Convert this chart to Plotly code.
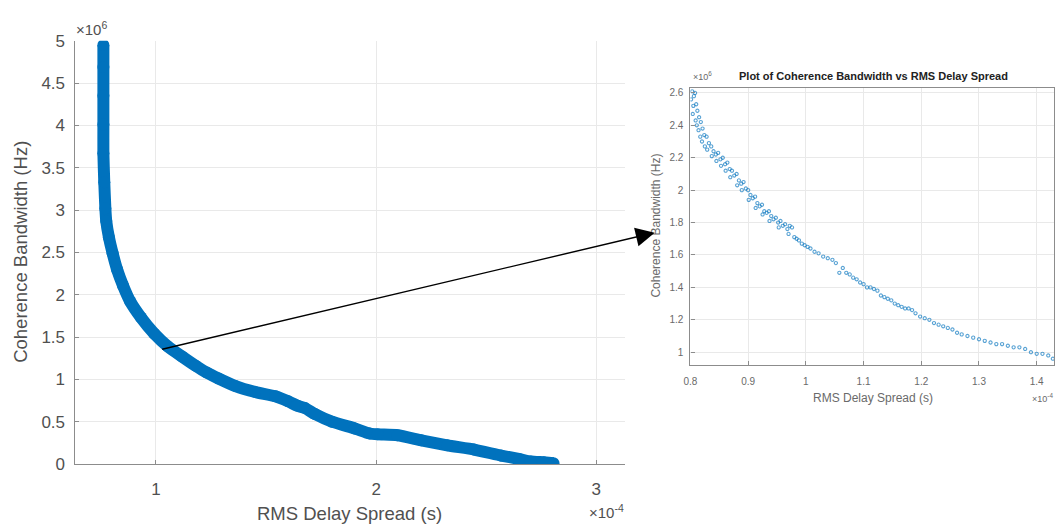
import plotly.graph_objects as go

# ---------------- data (x in 1e-4 s, y in 1e6 Hz) ----------------
main_delay = [0.761, 0.761, 0.761, 0.761, 0.761, 0.765, 0.770, 0.774, 0.786, 0.803,
              0.823, 0.850, 0.883, 0.932, 0.992, 1.053, 1.118, 1.180, 1.230, 1.284,
              1.361, 1.451, 1.542, 1.600, 1.641, 1.677, 1.722, 1.799, 1.903, 1.971,
              2.007, 2.097, 2.205, 2.323, 2.445, 2.567, 2.648, 2.702, 2.761, 2.806]
main_bw = [4.95, 4.69, 4.35, 4.01, 3.67, 3.33, 3.02, 2.87, 2.68, 2.49,
           2.30, 2.11, 1.92, 1.73, 1.54, 1.39, 1.27, 1.16, 1.08, 1.01,
           0.92, 0.85, 0.80, 0.74, 0.69, 0.66, 0.59, 0.50, 0.42, 0.36,
           0.35, 0.34, 0.28, 0.22, 0.17, 0.10, 0.06, 0.03, 0.02, 0.01]

zoom_delay = [0.803, 0.806, 0.801, 0.808, 0.805, 0.810, 0.804, 0.812, 0.809, 0.815,
              0.811, 0.818, 0.814, 0.821, 0.817, 0.824, 0.820, 0.828, 0.825, 0.832,
              0.829, 0.836, 0.840, 0.837, 0.844, 0.848, 0.845, 0.852, 0.856, 0.853,
              0.860, 0.864, 0.861, 0.868, 0.872, 0.869, 0.876, 0.880, 0.884, 0.881,
              0.888, 0.892, 0.889, 0.896, 0.900, 0.904, 0.901, 0.908, 0.912, 0.916,
              0.913, 0.920, 0.924, 0.928, 0.925, 0.932, 0.936, 0.940, 0.937, 0.944,
              0.948, 0.952, 0.956, 0.953, 0.960, 0.964, 0.968, 0.972, 0.976, 0.970,
              0.980, 0.984, 0.988, 0.993, 0.998, 1.003, 1.008, 1.015, 1.022, 1.030,
              1.038, 1.046, 1.052, 1.058, 1.064, 1.070, 1.076, 1.082, 1.088, 1.094,
              1.100, 1.106, 1.112, 1.118, 1.124, 1.130, 1.136, 1.142, 1.148, 1.154,
              1.160, 1.166, 1.172, 1.178, 1.184, 1.190, 1.198, 1.206, 1.214, 1.222,
              1.230, 1.238, 1.246, 1.254, 1.262, 1.270, 1.280, 1.290, 1.300, 1.310,
              1.320, 1.330, 1.340, 1.350, 1.360, 1.370, 1.380, 1.390, 1.400, 1.410,
              1.420, 1.428]
zoom_bw = [2.61, 2.58, 2.56, 2.60, 2.52, 2.53, 2.47, 2.49, 2.43, 2.45,
           2.40, 2.42, 2.37, 2.38, 2.33, 2.34, 2.30, 2.33, 2.27, 2.29,
           2.25, 2.27, 2.24, 2.21, 2.22, 2.23, 2.18, 2.19, 2.20, 2.15,
           2.16, 2.17, 2.12, 2.13, 2.12, 2.08, 2.09, 2.10, 2.06, 2.03,
           2.04, 2.05, 2.00, 2.01, 2.00, 1.97, 1.94, 1.95, 1.96, 1.92,
           1.89, 1.90, 1.91, 1.87, 1.85, 1.86, 1.87, 1.84, 1.81, 1.82,
           1.83, 1.80, 1.81, 1.77, 1.78, 1.79, 1.76, 1.78, 1.77, 1.73,
           1.71, 1.70, 1.69, 1.67, 1.66, 1.65, 1.64, 1.62, 1.61, 1.59,
           1.58, 1.57, 1.55, 1.49, 1.52, 1.49, 1.48, 1.46, 1.45, 1.43,
           1.42, 1.40, 1.40, 1.39, 1.38, 1.35, 1.34, 1.33, 1.32, 1.30,
           1.29, 1.28, 1.27, 1.27, 1.26, 1.24, 1.22, 1.21, 1.20, 1.18,
           1.17, 1.16, 1.15, 1.14, 1.12, 1.11, 1.10, 1.09, 1.08, 1.07,
           1.06, 1.05, 1.05, 1.04, 1.03, 1.03, 1.02, 1.00, 0.99, 0.99,
           0.98, 0.96]

main_xticks = [1, 2, 3]
main_yticks = [0, 0.5, 1, 1.5, 2, 2.5, 3, 3.5, 4, 4.5, 5]
zoom_xticks = [0.8, 0.9, 1.0, 1.1, 1.2, 1.3, 1.4]
zoom_yticks = [1.0, 1.2, 1.4, 1.6, 1.8, 2.0, 2.2, 2.4, 2.6]

def lab(v):
    s = ("%.1f" % v)
    return s[:-2] if s.endswith(".0") else s

FONT = "Liberation Sans, Arial, Helvetica, sans-serif"
BLUE = "#0072BD"
TICKC = "#505050"
SMALLC = "#6a6a6a"
W, H = 1057, 527

def px(x):
    return x / W

def py(y):
    return 1 - y / H

fig = go.Figure()
fig.add_trace(go.Scatter(
    x=main_delay, y=main_bw, mode="lines+markers",
    line=dict(color=BLUE, width=12, shape="spline", smoothing=0.5),
    marker=dict(color=BLUE, size=12),
    xaxis="x", yaxis="y", showlegend=False, hoverinfo="skip"))
fig.add_trace(go.Scatter(
    x=zoom_delay, y=zoom_bw, mode="markers",
    marker=dict(color="rgba(0,114,189,0.65)", size=3.2, symbol="circle-open",
                line=dict(width=1.1, color="rgba(0,114,189,0.65)")),
    xaxis="x2", yaxis="y2", showlegend=False, hoverinfo="skip"))

ax_common = dict(showgrid=True, gridcolor="#e9e9e9", gridwidth=1,
                 zeroline=False, showline=True, linecolor="#8c8c8c", linewidth=1.2,
                 ticks="inside", ticklen=4, tickcolor="#8c8c8c")

fig.update_layout(
    width=W, height=H, margin=dict(l=0, r=0, t=0, b=0),
    paper_bgcolor="white", plot_bgcolor="white",
    font=dict(family=FONT, color=TICKC),
    xaxis=dict(domain=[px(68), px(622)], range=[0.63, 3.13], anchor="y",
               tickvals=main_xticks, ticktext=[lab(v) for v in main_xticks],
               tickfont=dict(size=17, color=TICKC), ticklabelstandoff=10, **ax_common),
    yaxis=dict(domain=[py(472), py(33)], range=[0, 5], anchor="x",
               tickvals=main_yticks, ticktext=[lab(v) for v in main_yticks],
               tickfont=dict(size=17, color=TICKC), ticklabelstandoff=5, **ax_common),
    xaxis2=dict(domain=[px(688), px(1054)], range=[0.8, 1.43], anchor="y2",
                tickvals=zoom_xticks, ticktext=[lab(v) for v in zoom_xticks],
                tickfont=dict(size=10, color=SMALLC), ticklabelstandoff=7,
                mirror=True, **ax_common),
    yaxis2=dict(domain=[py(369), py(82)], range=[0.923, 2.63], anchor="x2",
                tickvals=zoom_yticks, ticktext=[lab(v) for v in zoom_yticks],
                tickfont=dict(size=10, color=SMALLC), ticklabelstandoff=4,
                mirror=True, **ax_common),
)

ann = [
    dict(text="RMS Delay Spread (s)", x=px(345), y=py(523), font=dict(size=18.5, color=TICKC)),
    dict(text="Coherence Bandwidth (Hz)", x=px(14), y=py(252), textangle=-90,
         font=dict(size=18.5, color=TICKC)),
    dict(text="×10<sup>-4</sup>", x=px(623), y=py(521), xanchor="right",
         font=dict(size=15, color=TICKC)),
    dict(text="×10<sup>6</sup>", x=px(67), y=py(20), xanchor="left",
         font=dict(size=15, color=TICKC)),
    dict(text="<b>Plot of Coherence Bandwidth vs RMS Delay Spread</b>", x=px(872), y=py(69),
         font=dict(size=11, color="#222222")),
    dict(text="×10<sup>6</sup>", x=px(689), y=py(70), xanchor="left",
         font=dict(size=9, color=SMALLC)),
    dict(text="RMS Delay Spread (s)", x=px(872), y=py(404), font=dict(size=12, color=SMALLC)),
    dict(text="Coherence Bandwidth (Hz)", x=px(653), y=py(225), textangle=-90,
         font=dict(size=12, color=SMALLC)),
    dict(text="×10<sup>-4</sup>", x=px(1055), y=py(404), xanchor="right",
         font=dict(size=9, color=SMALLC)),
]
for a in ann:
    a.setdefault("xanchor", "center")
    fig.add_annotation(xref="paper", yref="paper", showarrow=False, yanchor="middle", **a)

# arrow from the main curve to the zoomed panel (offsets in pixels)
fig.add_annotation(xref="paper", yref="paper", axref="pixel", ayref="pixel",
                   x=px(652), y=py(232), ax=158 - 652, ay=349 - 232, text="",
                   showarrow=True, arrowhead=2, arrowsize=2.7, arrowwidth=1.4,
                   arrowcolor="black", standoff=0, startstandoff=0)

fig.write_html("out.html")
